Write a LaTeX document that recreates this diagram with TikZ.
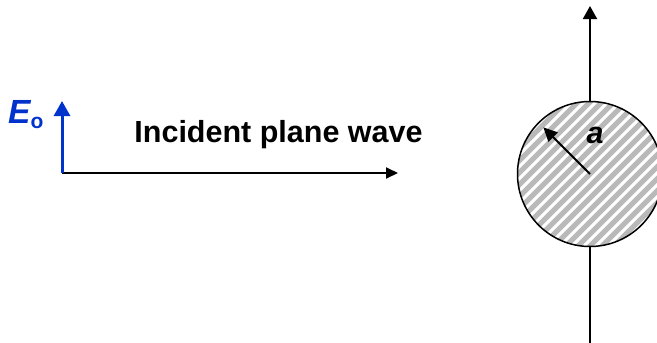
\documentclass[tikz,border=0pt]{standalone}
\usepackage{fontspec}
\setmainfont{Liberation Sans}
\usetikzlibrary{arrows.meta}
\definecolor{fieldblue}{RGB}{0,51,204}

\begin{document}
\begin{tikzpicture}[x=1pt,y=-1pt,
  ray/.style={line width=2pt,-{Triangle[length=12pt,width=11pt]}},
  field/.style={fieldblue,line width=3pt,-{Triangle[length=15pt,width=16pt]}},
  lbl/.style={inner sep=0pt,font=\fontsize{30.5}{34}\selectfont\bfseries}]
  \useasboundingbox (0,0) rectangle (657,343);
  % hatched cylinder
  \node[circle,draw,line width=1.5pt,minimum size=145pt,inner sep=0pt,
    path picture={\foreach \k in {-168,-156,...,168}
      \draw[gray!55,line width=5pt]
        ([shift={(\k pt-100pt,-100pt)}]path picture bounding box.center) -- ++(200pt,200pt);}]
    (scat) at (590,174) {};
  \coordinate (top) at (590,6);
  \coordinate (bot) at (590,343);
  \draw[ray,-{Triangle[length=13pt,width=14pt]}] (scat.north) -- (top);
  \draw[line width=2pt] (bot) -- (scat.south);
  \coordinate (rtip) at ([shift={(135:66pt)}]scat.center);
  \draw[ray,-{Triangle[length=14pt,width=13pt]}] (scat.center) -- (rtip);
  \node[lbl,font=\fontsize{30.5}{34}\selectfont\bfseries\itshape] (radius) at (595,135) {a};
  % incident wave
  \coordinate (o) at (62,173);
  \coordinate (wavehead) at (398,173);
  \coordinate (ehead) at (62,101);
  \draw[ray] (o) -- (wavehead);
  \draw[field] (o) -- (ehead);
  \node[lbl,anchor=base] (wave) at (278.5,142) {Incident plane wave};
  \node[lbl,font=\fontsize{33.5}{36}\selectfont\bfseries,text=fieldblue,anchor=base west] (efield) at (8,123)
    {\itshape E\raisebox{-5pt}{\fontsize{21}{21}\selectfont\upshape o}};
\end{tikzpicture}
\end{document}
